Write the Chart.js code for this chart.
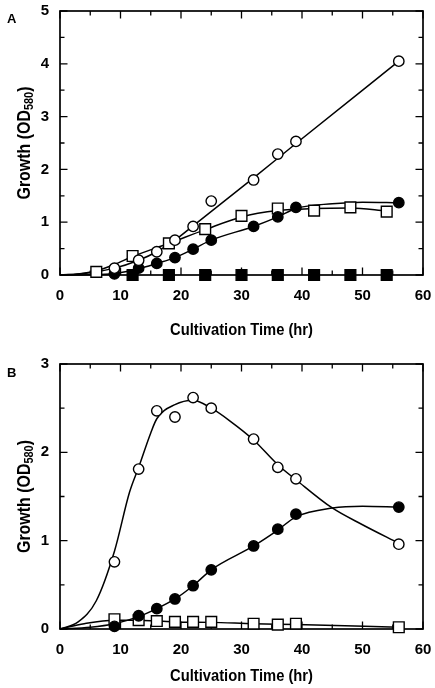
<!DOCTYPE html>
<html><head><meta charset="utf-8">
<script src="https://cdn.jsdelivr.net/npm/chart.js@4.4.0/dist/chart.umd.min.js"></script>
<style>
html,body{margin:0;padding:0;background:#fff;width:435px;height:688px;overflow:hidden;}
#wrapA{position:absolute;left:0;top:0;width:435px;height:345px;}
#wrapB{position:absolute;left:0;top:345px;width:435px;height:343px;}
canvas{display:block}
</style></head><body>
<div id="wrapA"><canvas id="cA"></canvas></div>
<div id="wrapB"><canvas id="cB"></canvas></div>
<script>
// ---------- data ----------
const xTicks = [0, 10, 20, 30, 40, 50, 60];
const xMinorTicks = [5, 15, 25, 35, 45, 55];
const yTicksA = [0, 1, 2, 3, 4, 5];
const yTicksB = [0, 1, 2, 3];
const xTitle = 'Cultivation Time (hr)';
const yTitleMain = 'Growth (OD';
const yTitleSub = '580';
const yTitleEnd = ')';

// Panel A
const timeA = [9, 13, 16, 19, 22, 25, 32, 36, 39, 56];
const openCircleA = [0.13, 0.28, 0.44, 0.66, 0.92, 1.40, 1.80, 2.29, 2.53, 4.05];
const filledCircleA = [0.02, 0.13, 0.22, 0.33, 0.49, 0.66, 0.92, 1.10, 1.28, 1.37];
const timeSquareA = [6, 12, 18, 24, 30, 36, 42, 48, 54];
const openSquareA = [0.06, 0.36, 0.60, 0.87, 1.12, 1.26, 1.22, 1.28, 1.20];
const timeFilledSquareA = [12, 18, 24, 30, 36, 42, 48, 54];
const filledSquareA = [0, 0, 0, 0, 0, 0, 0, 0];
// fitted curves of panel A
const fitOpenCircleAx = [0, 4, 9, 13, 16, 19, 22, 32, 39, 56];
const fitOpenCircleAy = [0, 0.03, 0.13, 0.28, 0.44, 0.66, 0.93, 1.84, 2.49, 4.05];
const fitFilledCircleAx = [0, 5, 9, 13, 16, 19, 22, 25, 32, 36, 39, 45, 50, 56];
const fitFilledCircleAy = [0, 0.005, 0.03, 0.12, 0.22, 0.33, 0.49, 0.66, 0.92, 1.10, 1.26, 1.35, 1.38, 1.37];
const fitOpenSquareAx = [0, 3, 6, 9, 12, 18, 24, 30, 36, 42, 48, 54];
const fitOpenSquareAy = [0, 0.02, 0.08, 0.20, 0.35, 0.60, 0.86, 1.10, 1.22, 1.26, 1.27, 1.21];

// Panel B
const timeB = [9, 13, 16, 19, 22, 25, 32, 36, 39, 56];
const openCircleB = [0.76, 1.81, 2.47, 2.40, 2.62, 2.50, 2.15, 1.83, 1.70, 0.96];
const filledCircleB = [0.03, 0.15, 0.23, 0.34, 0.49, 0.67, 0.94, 1.13, 1.30, 1.38];
const openSquareB = [0.11, 0.10, 0.09, 0.08, 0.08, 0.08, 0.06, 0.05, 0.06, 0.02];
const fitOpenCircleBx = [0, 3, 6, 9, 11.5, 13, 15, 16, 19, 22, 25, 28, 32, 36, 39, 45, 50, 56];
const fitOpenCircleBy = [0, 0.08, 0.32, 0.88, 1.55, 1.83, 2.22, 2.38, 2.54, 2.59, 2.50, 2.36, 2.14, 1.86, 1.69, 1.37, 1.18, 0.97];
const fitFilledCircleBx = [0, 5, 9, 13, 16, 19, 22, 25, 32, 36, 39, 45, 50, 56];
const fitFilledCircleBy = [0, 0.02, 0.06, 0.14, 0.23, 0.34, 0.49, 0.67, 0.94, 1.12, 1.27, 1.37, 1.39, 1.38];
const fitOpenSquareBx = [0, 4, 9, 13, 16, 19, 25, 32, 39, 56];
const fitOpenSquareBy = [0, 0.06, 0.10, 0.10, 0.09, 0.08, 0.075, 0.06, 0.05, 0.02];

// ---------- helpers ----------
const FONT = '"Liberation Sans", Arial, Helvetica, sans-serif';
const zip = (xs, ys) => xs.map((x, i) => ({x: x, y: ys[i]}));

function markers(xs, ys, style, filled) {
  const isRect = style === 'rect';
  return {
    data: zip(xs, ys), showLine: false, order: 0, clip: false,
    pointStyle: style, pointRadius: isRect ? 7.6 : 5.2,
    pointBackgroundColor: filled ? '#000' : '#fff',
    pointBorderColor: '#000', pointBorderWidth: 1.4
  };
}
function curve(xs, ys) {
  return {
    data: zip(xs, ys), showLine: true, order: 1, clip: false,
    pointRadius: 0, borderColor: '#000', borderWidth: 1.5,
    cubicInterpolationMode: 'monotone', fill: false
  };
}

function makeChart(id, cfg) {
  const framePlugin = {
    id: 'frame',
    beforeDatasetsDraw(chart) {
      const ctx = chart.ctx, a = chart.chartArea, x = chart.scales.x, y = chart.scales.y;
      ctx.save();
      ctx.strokeStyle = '#000';
      ctx.lineWidth = 1.3;
      ctx.beginPath();
      const tick = (v, L) => {
        const px = x.getPixelForValue(v);
        ctx.moveTo(px, a.bottom); ctx.lineTo(px, a.bottom - L);
        ctx.moveTo(px, a.top); ctx.lineTo(px, a.top + L);
      };
      xTicks.forEach(v => tick(v, 7.5));
      xMinorTicks.forEach(v => tick(v, 4.5));
      const ytick = (v, L) => {
        const py = y.getPixelForValue(v);
        ctx.moveTo(a.left, py); ctx.lineTo(a.left + L, py);
        ctx.moveTo(a.right, py); ctx.lineTo(a.right - L, py);
      };
      cfg.yTicks.forEach(v => ytick(v, 7.5));
      cfg.yTicks.slice(0, -1).forEach(v => ytick(v + 0.5, 4.5));
      ctx.stroke();
      ctx.lineWidth = 1.7;
      ctx.strokeRect(a.left, a.top, a.right - a.left, a.bottom - a.top);
      ctx.restore();
    },
    afterDraw(chart) {
      const ctx = chart.ctx, a = chart.chartArea;
      ctx.save();
      ctx.fillStyle = '#000';
      // panel letter
      ctx.font = 'bold 13px ' + FONT;
      ctx.textBaseline = 'alphabetic';
      ctx.textAlign = 'left';
      ctx.fillText(cfg.letter, 7, cfg.letterY);
      // x title (slightly condensed like the reference typeface)
      ctx.save();
      ctx.font = 'bold 16px ' + FONT;
      ctx.textAlign = 'center';
      ctx.textBaseline = 'middle';
      const xw = ctx.measureText(xTitle).width;
      const kx = 143 / xw;
      ctx.translate((a.left + a.right) / 2, cfg.xTitleY);
      ctx.scale(kx, 1);
      ctx.fillText(xTitle, 0, 0);
      ctx.restore();
      // y title with subscript
      const cy = (a.top + a.bottom) / 2;
      ctx.translate(0, cy);
      ctx.rotate(-Math.PI / 2);
      ctx.textAlign = 'left';
      ctx.textBaseline = 'alphabetic';
      ctx.font = 'bold 17.5px ' + FONT;
      const w1 = ctx.measureText(yTitleMain).width;
      const w3 = ctx.measureText(yTitleEnd).width;
      ctx.font = 'bold 12px ' + FONT;
      const w2 = ctx.measureText(yTitleSub).width;
      const ky = 113 / (w1 + w2 + w3);
      ctx.scale(ky, 1);
      let sx = -(w1 + w2 + w3) / 2;
      const base = 30;
      ctx.font = 'bold 17.5px ' + FONT;
      ctx.fillText(yTitleMain, sx, base); sx += w1;
      ctx.font = 'bold 12px ' + FONT;
      ctx.fillText(yTitleSub, sx, base + 3); sx += w2;
      ctx.font = 'bold 17.5px ' + FONT;
      ctx.fillText(yTitleEnd, sx, base);
      ctx.restore();
    }
  };

  const tickFont = {family: FONT, size: 15, weight: 'bold'};
  return new Chart(document.getElementById(id), {
    type: 'scatter',
    data: {datasets: cfg.datasets},
    options: {
      responsive: true, maintainAspectRatio: false, animation: false, devicePixelRatio: 1,
      layout: {padding: {left: 0, right: 12, top: cfg.top, bottom: 0}},
      plugins: {legend: {display: false}, tooltip: {enabled: false}},
      scales: {
        x: {
          type: 'linear', min: 0, max: 60,
          afterBuildTicks: s => { s.ticks = xTicks.map(v => ({value: v})); },
          ticks: {font: tickFont, color: '#000', padding: 12, maxRotation: 0},
          grid: {display: false, drawTicks: false}, border: {display: false},
          afterFit: s => { s.height = cfg.xHeight; s.paddingLeft = 0; s.paddingRight = 0; }
        },
        y: {
          type: 'linear', min: 0, max: cfg.yTicks[cfg.yTicks.length - 1],
          afterBuildTicks: s => { s.ticks = cfg.yTicks.map(v => ({value: v})); },
          ticks: {font: tickFont, color: '#000', padding: 11},
          grid: {display: false, drawTicks: false}, border: {display: false},
          afterFit: s => { s.width = 60; s.paddingTop = 0; s.paddingBottom = 0; }
        }
      }
    },
    plugins: [framePlugin]
  });
}

makeChart('cA', {
  letter: 'A', letterY: 23, top: 11, xHeight: 70, xTitleY: 331, yTicks: yTicksA,
  datasets: [
    markers(timeA, openCircleA, 'circle', false),
    markers(timeA, filledCircleA, 'circle', true),
    markers(timeSquareA, openSquareA, 'rect', false),
    markers(timeFilledSquareA, filledSquareA, 'rect', true),
    curve(fitOpenCircleAx, fitOpenCircleAy),
    curve(fitFilledCircleAx, fitFilledCircleAy),
    curve(fitOpenSquareAx, fitOpenSquareAy)
  ]
});

makeChart('cB', {
  letter: 'B', letterY: 32, top: 19, xHeight: 59, xTitleY: 331.5, yTicks: yTicksB,
  datasets: [
    markers(timeB, openCircleB, 'circle', false),
    markers(timeB, filledCircleB, 'circle', true),
    markers(timeB, openSquareB, 'rect', false),
    curve(fitOpenCircleBx, fitOpenCircleBy),
    curve(fitFilledCircleBx, fitFilledCircleBy),
    curve(fitOpenSquareBx, fitOpenSquareBy)
  ]
});
</script>
</body></html>
